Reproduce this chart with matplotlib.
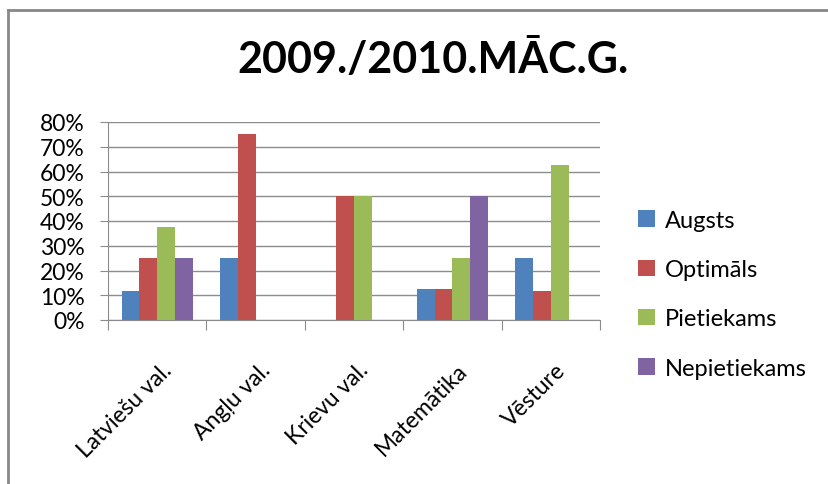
import matplotlib
matplotlib.use('Agg')
import matplotlib.pyplot as plt
import numpy as np
from matplotlib.ticker import PercentFormatter

plt.rcParams['font.family'] = ['Lato', 'DejaVu Sans']

# data
subjects = ['Latviešu val.', 'Angļu val.', 'Krievu val.', 'Matemātika', 'Vēsture']
augsts = [0.118, 0.25, 0.0, 0.125, 0.25]
optimals = [0.25, 0.75, 0.50, 0.125, 0.118]
pietiekams = [0.375, 0.0, 0.50, 0.25, 0.625]
nepietiekams = [0.25, 0.0, 0.0, 0.50, 0.0]
series_names = ['Augsts', 'Optimāls', 'Pietiekams', 'Nepietiekams']
colors = ['#4F81BD', '#C0504D', '#9BBB59', '#8064A2']

fig = plt.figure(figsize=(8.29, 4.85), dpi=100)
ax = fig.add_axes([108 / 829, 1 - 321 / 485, (600 - 108) / 829, (321 - 123) / 485])

# outer chart frame (top and left edges visible)
fig.add_artist(plt.Line2D([8 / 829, 8 / 829], [0, 1 - 11 / 485], transform=fig.transFigure,
                          color='#888888', lw=2))
fig.add_artist(plt.Line2D([8 / 829, 1], [1 - 11 / 485, 1 - 11 / 485], transform=fig.transFigure,
                          color='#888888', lw=2))

x = np.arange(len(subjects))
width = 0.18
for i, (vals, name) in enumerate(zip([augsts, optimals, pietiekams, nepietiekams], series_names)):
    ax.bar(x + (i - 1.5) * width, vals, width, color=colors[i], label=name, zorder=3)

ax.set_xlim(-0.5, len(subjects) - 0.5)
ax.set_ylim(0, 0.8)
ax.set_yticks(np.arange(0, 0.81, 0.1))
ax.yaxis.set_major_formatter(PercentFormatter(1.0, decimals=0))
ax.grid(axis='y', color='#8c8c8c', lw=1, zorder=0)

# category boundary ticks
ax.set_xticks(np.arange(-0.5, len(subjects), 1.0))
ax.set_xticklabels([])
ax.set_xticks(x + 0.04, minor=True)
ax.set_xticklabels(subjects, minor=True, rotation=45, ha='right', rotation_mode='anchor',
                   fontsize=16.5)
ax.tick_params(axis='x', which='minor', length=0, pad=28)
ax.tick_params(axis='x', which='major', length=7, color='#8c8c8c', direction='out')
ax.tick_params(axis='y', length=6, color='#8c8c8c', labelsize=16.5, pad=11)

for s in ['top', 'right']:
    ax.spines[s].set_visible(False)
ax.spines['left'].set_color('#8c8c8c')
ax.spines['bottom'].set_color('#8c8c8c')

fig.text(433 / 829, 1 - 60 / 485, '2009./2010.MĀC.G.', ha='center', va='center',
         fontsize=31, fontweight='bold')

ax.legend(loc='center left', bbox_to_anchor=(1.035, 0.13), frameon=False, fontsize=17,
          handlelength=0.7, handleheight=0.7, handletextpad=0.4, labelspacing=1.2)

fig.savefig('out.png', dpi=100)
